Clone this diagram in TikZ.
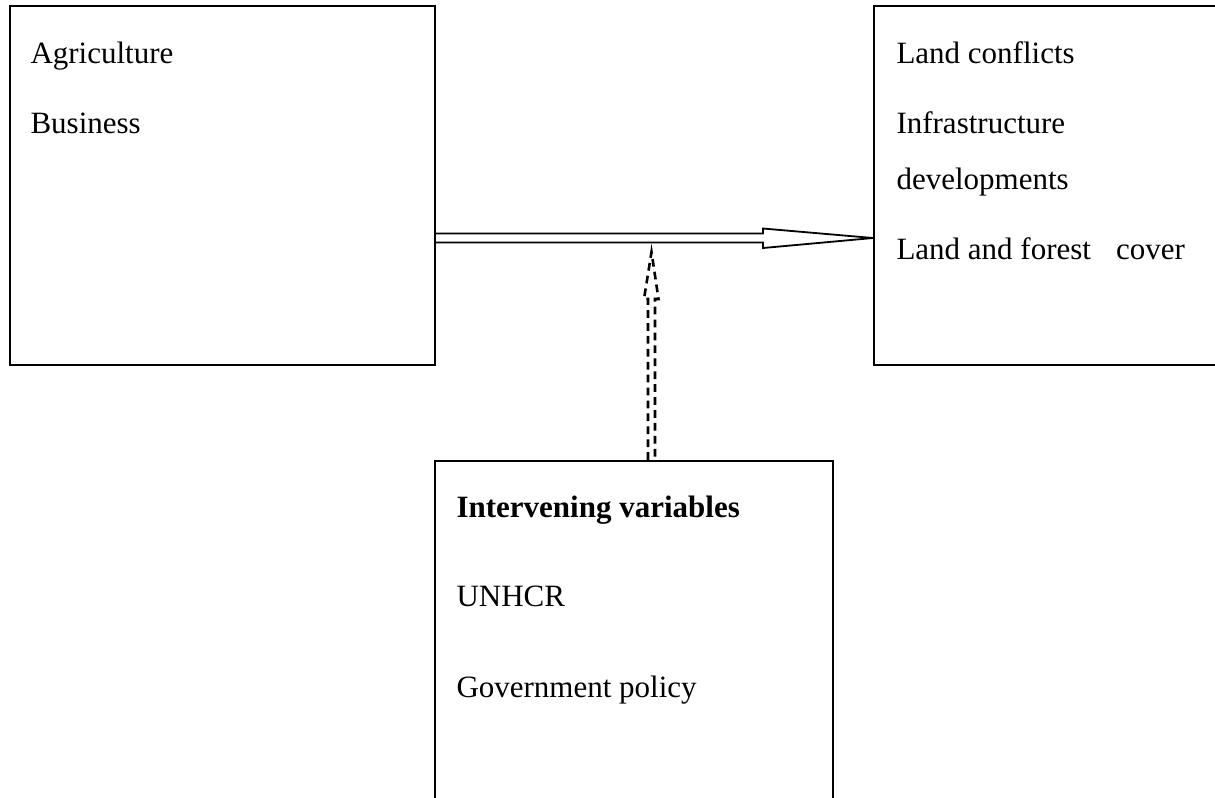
\documentclass[tikz,border=0pt]{standalone}
\usepackage{fontspec}
\setmainfont{Liberation Serif}
\usetikzlibrary{calc}
\newcommand{\pu}{0.3871pt}

\begin{document}
\begin{tikzpicture}[x=\pu,y=-\pu,
  box/.style={draw,line width=0.8pt,inner sep=0pt},
  lbl/.style={anchor=base west,inner sep=0pt,font=\fontsize{12}{14}\selectfont}]
\useasboundingbox (0,0) rectangle (1215,797);
\clip (0,0) rectangle (1215,797);

\node[box,minimum width={425*\pu},minimum height={359*\pu}] (ind) at (222.5,185.5) {};
\node[box,minimum width={356*\pu},minimum height={359*\pu}] (dep) at (1052,185.5) {};
\node[box,minimum width={398*\pu},minimum height={359*\pu}] (intv) at (634,640.5) {};

\node[lbl] (agri) at (30,63) {Agriculture};
\node[lbl] (bus) at (30,133) {Business};

\node[lbl] (conf) at (896,63) {Land conflicts};
\node[lbl] (infra) at (896,133) {Infrastructure};
\node[lbl] (devt) at (896,189) {developments};
\node[lbl] (cover) at (896,259) {Land and forest\hspace{6.7pt} cover};

\node[lbl,font=\fontsize{12}{14}\selectfont\bfseries] (head) at (456,517) {Intervening variables};
\node[lbl] (unhcr) at (456,606) {UNHCR};
\node[lbl] (gov) at (456,697) {Government policy};

% hollow arrow
\coordinate (hs) at (ind.east |- 0,238);
\coordinate (he) at (dep.west |- 0,238);
\draw[line width=0.7pt] ($(hs)+(0,-4.5)$) -- ($(he)+(-110,-4.5)$) -- ($(he)+(-110,-9.5)$)
  -- (he) -- ($(he)+(-110,10)$) -- ($(he)+(-110,4.5)$) -- ($(hs)+(0,4.5)$);

% dashed arrow
\coordinate (vs) at (intv.north -| 651.5,0);
\coordinate (vt) at ($(vs |- hs)+(0,14)$);
\draw[line width=1pt,dash pattern=on 3pt off 2pt] ($(vs)+(-3.5,0)$) -- ($(vs)+(-3.5,-161)$)
  -- ($(vs)+(-7.5,-161)$) -- (vt) -- ($(vs)+(7,-161)$) -- ($(vs)+(3.5,-161)$) -- ($(vs)+(3.5,0)$);
\end{tikzpicture}
\end{document}
